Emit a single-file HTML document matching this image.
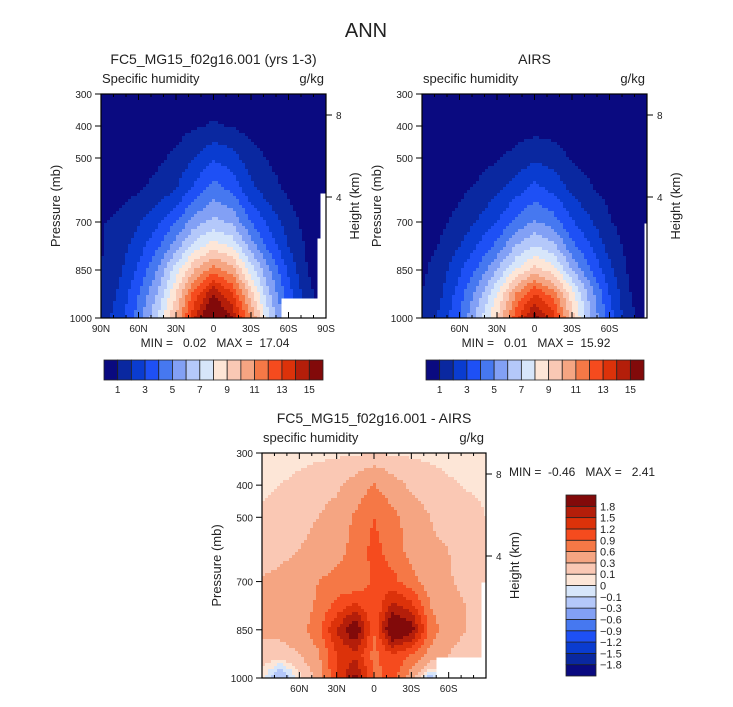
<!DOCTYPE html>
<html><head><meta charset="utf-8">
<style>
html,body{margin:0;padding:0;background:#fff;}
svg text{font-family:"Liberation Sans",sans-serif;fill:#222;}
</style></head>
<body>
<svg id="chart" width="733" height="702" viewBox="0 0 733 702" xmlns="http://www.w3.org/2000/svg">
<text x="366" y="37" font-size="20" text-anchor="middle">ANN</text>
<g id="layer"></g>
</svg>
<script>
const lats = [90,75,60,45,30,15,0,-15,-30,-45,-60,-75,-90];
const plevs = [1000,925,850,775,700,600,500,400,300];
const modelQ = [
[1.5,2.5,4.5,7,10,14,17,15,11,7,4,1.5,0.5],
[1.2,2.2,4,6,9,12.5,15,13,9.5,6,3.5,1.3,0.4],
[1,1.8,3.2,5,7.5,10,11.5,10.5,7.5,5,2.8,1,0.3],
[0.9,1.5,2.5,3.8,5.5,7.5,8.5,7.8,5.5,3.6,2,0.8,0.2],
[0.9,1.3,1.9,2.8,4,5.5,6.3,5.8,4,2.7,1.5,0.6,0.2],
[0.4,0.6,0.9,1.3,2.0,3.3,4.5,3.8,2.3,1.4,0.8,0.3,0.1],
[0.2,0.35,0.55,0.8,1.2,2.0,2.9,2.4,1.4,0.9,0.5,0.2,0.1],
[0.1,0.15,0.3,0.45,0.6,0.9,1.1,0.95,0.6,0.4,0.2,0.1,0.05],
[0.05,0.08,0.15,0.25,0.35,0.5,0.55,0.5,0.35,0.2,0.1,0.05,0.02]];
const airsQ = [
[1.2,2.2,4,6.5,9,12.5,15.5,13.5,9.5,6,3.5,1.3,0.5],
[1.0,1.9,3.5,5.5,8,11,13,11.5,8.5,5.5,3,1.1,0.4],
[0.8,1.5,2.8,4.2,6,8,9.5,8.5,6,4,2.3,0.9,0.3],
[0.6,1.1,2.0,3.1,4.3,6,7,6.3,4.3,3,1.6,0.7,0.2],
[0.5,0.8,1.3,2.1,3.0,4.2,5.1,4.5,3.1,2.1,1.1,0.5,0.2],
[0.3,0.5,0.8,1.2,1.8,2.6,3.4,2.8,1.8,1.1,0.7,0.3,0.1],
[0.15,0.25,0.4,0.6,0.9,1.3,1.8,1.5,0.9,0.6,0.35,0.15,0.1],
[0.05,0.08,0.15,0.25,0.35,0.5,0.6,0.55,0.35,0.25,0.12,0.05,0.03],
[0.02,0.03,0.05,0.1,0.15,0.2,0.25,0.2,0.15,0.1,0.05,0.02,0.01]];
const diffQ = [
[0.05,-0.3,0.05,0.35,1.2,1.9,0.8,1.0,0.4,-0.2,0.1,0.1,0.05],
[0.2,0.2,0.3,0.55,1.2,1.4,0.8,1.2,0.9,0.5,0.3,0.2,0.1],
[0.35,0.38,0.45,0.8,1.5,2.2,0.9,2.3,2.0,0.8,0.4,0.3,0.15],
[0.35,0.38,0.45,0.65,1.0,1.3,0.9,1.6,1.3,0.6,0.35,0.3,0.15],
[0.32,0.35,0.4,0.6,0.7,0.6,1.0,1.0,0.7,0.45,0.32,0.25,0.12],
[0.2,0.25,0.3,0.38,0.5,0.7,1.0,0.75,0.5,0.35,0.3,0.2,0.15],
[0.12,0.15,0.22,0.3,0.4,0.65,0.9,0.7,0.45,0.3,0.2,0.15,0.1],
[0.08,0.1,0.14,0.2,0.25,0.4,0.62,0.4,0.25,0.18,0.12,0.09,0.08],
[0.03,0.04,0.05,0.06,0.07,0.08,0.09,0.08,0.07,0.06,0.05,0.04,0.03]];
const qLevels = [1,2,3,4,5,6,7,8,9,10,11,12,13,14,15];
const qLabels = ["1","3","5","7","9","11","13","15"];
const dLevels = [-1.8,-1.5,-1.2,-0.9,-0.6,-0.3,-0.1,0,0.1,0.3,0.6,0.9,1.2,1.5,1.8];
const pTicks = [300,400,500,700,850,1000];
const latTicks = [90,60,30,0,-30,-60,-90];
const colors = ['#0a0a80','#0a28a0','#0a3cd0','#1e50f5','#4678f0','#82a0f5','#b4c8fa','#d7e6fa','#fde6d7','#fac8b4','#f5a582','#f57846','#f54b1e','#dc320a','#b41e0a','#820a0a'];

const NS='http://www.w3.org/2000/svg';
const layer=document.getElementById('layer');
function mk(tag,attrs,parent){const e=document.createElementNS(NS,tag);for(const k in attrs)e.setAttribute(k,attrs[k]);(parent||layer).appendChild(e);return e;}
function txt(x,y,s,size,anchor,parent){const t=mk('text',{x:x,y:y,'font-size':size,'text-anchor':anchor||'start'},parent);t.textContent=s;return t;}
function latLabel(l){return l===0?'0':(l>0?l+'N':(-l)+'S');}
function colorIdx(v,lv){let i=0;while(i<lv.length&&v>=lv[i])i++;return i;}
function interp(grid,lat,p){
  let j=0;while(j<lats.length-2&&lat<lats[j+1])j++;
  let i=0;while(i<plevs.length-2&&p<plevs[i+1])i++;
  const tx=(lats[j]-lat)/(lats[j]-lats[j+1]);
  const ty=(plevs[i]-p)/(plevs[i]-plevs[i+1]);
  const a=grid[i][j],b=grid[i][j+1],c=grid[i+1][j],d=grid[i+1][j+1];
  return (a*(1-tx)+b*tx)*(1-ty)+(c*(1-tx)+d*tx)*ty;
}
function panel(o){
  const g=mk('g',{});
  
  
  const X=l=>o.x+(90-l)/180*o.w;
  const Y=p=>o.y+(p-300)/700*o.h;
  const step=3;
  const cells=mk('g',{'shape-rendering':'crispEdges'},g);
  
  
  for(let px=0;px<o.w;px+=step){
    for(let py=0;py<o.h;py+=step){
      const lat=90-(px+step/2)/o.w*180;
      const p=300+(py+step/2)/o.h*700;
      if(o.missing(lat,p))continue;
      const v=interp(o.data,lat,p);
      mk('rect',{x:o.x+px,y:o.y+py,width:Math.min(step,o.w-px)+0.3,height:Math.min(step,o.h-py)+0.3,fill:colors[colorIdx(v,o.levels)]},cells);
    }
  }
  const fr=mk('rect',{x:o.x,y:o.y,width:o.w,height:o.h,fill:'none',stroke:'#000','stroke-width':1.2},g);
  
  
  for(let l=90;l>=-90;l-=10){
    const x=X(l);const len=(l%30===0)?6:3;
    mk('line',{x1:x,y1:o.y+o.h,x2:x,y2:o.y+o.h-len,stroke:'#000'},g);
    mk('line',{x1:x,y1:o.y,x2:x,y2:o.y+len,stroke:'#000'},g);
  }
  latTicks.forEach(l=>{
    if(!o.endLabels&&Math.abs(l)===90)return;
    const t=txt(X(l),o.y+o.h+14,latLabel(l),10,'middle',g);
    
    
  });
  pTicks.forEach(p=>{
    mk('line',{x1:o.x-6,y1:Y(p),x2:o.x,y2:Y(p),stroke:'#000'},g);
    const t=txt(o.x-9,Y(p)+4,String(p),10,'end',g);
    
    
  });
  [[8,o.y+21],[4,o.y+103]].forEach(h=>{
    mk('line',{x1:o.x+o.w,y1:h[1],x2:o.x+o.w+6,y2:h[1],stroke:'#000'},g);
    const t=txt(o.x+o.w+10,h[1]+4,String(h[0]),10,'start',g);
    
    
  });
  const yl=txt(0,0,'Pressure (mb)',13,'middle',g);
  yl.setAttribute('transform','translate('+(o.x-41)+','+(o.y+o.h/2)+') rotate(-90)');
  
  
  const hl=txt(0,0,'Height (km)',13,'middle',g);
  hl.setAttribute('transform','translate('+(o.x+o.w+33)+','+(o.y+o.h/2)+') rotate(-90)');
  
  
  const t1=txt(o.x+o.w/2,o.y-30,o.title,14,'middle',g);
  
  
  const t2=txt(o.x+1,o.y-11,o.sub,13,'start',g);
  
  
  const t3=txt(o.x+o.w-2,o.y-11,'g/kg',13,'end',g);
  
  
  return {X,Y};
}
panel({name:'model-panel',x:101,y:94,w:225,h:224,data:modelQ,levels:qLevels,endLabels:true,
  title:'FC5_MG15_f02g16.001 (yrs 1-3)',sub:'Specific humidity',
  missing:(lat,p)=>(lat<=-53&&p>=935)||(lat<=-83&&p>=750)||(lat<=-86&&p>=610)});
panel({name:'airs-panel',x:422,y:94,w:225,h:224,data:airsQ,levels:qLevels,endLabels:false,
  title:'AIRS',sub:'specific humidity',
  missing:(lat,p)=>(lat<=-87&&p>=700)});
panel({name:'difference-panel',x:262,y:453,w:224,h:225,data:diffQ,levels:dLevels,endLabels:false,
  title:'FC5_MG15_f02g16.001 - AIRS',sub:'specific humidity',
  missing:(lat,p)=>(lat<=-50&&p>=935)||(lat<=-85&&p>=700)});

function minmax(x,y,s,anchor,name){const t=txt(x,y,s,12,anchor);t.setAttribute('xml:space','preserve');t.style.whiteSpace='pre';}
minmax(215,347,'MIN =   0.02   MAX =  17.04','middle','model-min-max');
minmax(536,347,'MIN =   0.01   MAX =  15.92','middle','airs-min-max');
minmax(509,476,'MIN =  -0.46   MAX =   2.41','start','diff-min-max');

function hbar(x0,x1,y,name){
  const g=mk('g',{});
  
  
  const bw=(x1-x0)/colors.length;
  colors.forEach((c,i)=>{
    const r=mk('rect',{x:x0+i*bw,y:y,width:bw,height:20,fill:c,stroke:'#222','stroke-width':0.8},g);
    
    
  });
  qLabels.forEach((s,k)=>{
    const lv=Number(s);const bi=qLevels.indexOf(lv)+1;
    const t=txt(x0+bi*bw,y+33,s,10,'middle',g);
    
    
  });
}
hbar(104,323,360,'model-colorbar');
hbar(426,644,360,'airs-colorbar');
(function(){
  const g=mk('g',{});
  
  
  const x0=566,y0=495,h=181,w=30;const bh=h/colors.length;
  colors.forEach((c,i)=>{
    const r=mk('rect',{x:x0,y:y0+h-(i+1)*bh,width:w,height:bh,fill:c,stroke:'#222','stroke-width':0.8},g);
    
    
  });
  dLevels.forEach((v,i)=>{
    const y=y0+h-(i+1)*bh;
    const t=txt(x0+w+4,y+4,String(v).replace('-','\u2212'),11,'start',g);
    
    
  });
})();
</script>
</body></html>
